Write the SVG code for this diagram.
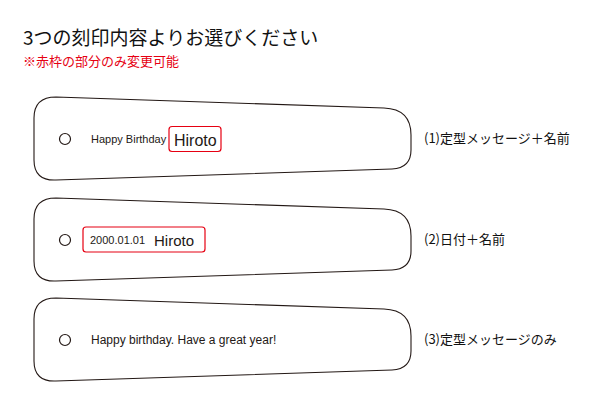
<svg xmlns="http://www.w3.org/2000/svg" width="600" height="400" viewBox="0 0 600 400">
<style>
.tag{fill:#fff;stroke:#231815;stroke-width:1.1}
.hole{fill:#fff;stroke:#231815;stroke-width:1.2}
.en{font-family:"Liberation Sans",Arial,sans-serif;fill:#231815}
.jp{font-family:"Noto Sans CJK JP","Noto Sans",sans-serif;fill:#111}
.box{fill:none;stroke:#e60012;stroke-width:1.2}
</style>
<defs>
<path id="tagshape" d="M56,97 L384,108 Q411,109 411,135 L411,150 Q411,168 392,169 L56,180 Q34,181 34,160 L34,118 Q34,97 56,97 Z"/>
</defs>
<text x="23" y="45" class="jp" font-size="19">3つの刻印内容よりお選びください</text>
<text x="23" y="66" class="jp" font-size="13" style="fill:#e60012">※赤枠の部分のみ変更可能</text>

<g id="tag1">
<use href="#tagshape" class="tag"/>
<circle cx="65" cy="139" r="5.5" class="hole"/>
<text x="91" y="143" class="en" font-size="11">Happy Birthday</text>
<rect x="169" y="126.5" width="52" height="25" rx="3" class="box"/>
<text x="174" y="146" class="en" font-size="16">Hiroto</text>
<text x="424" y="143" class="jp" font-size="13">(1)定型メッセージ＋名前</text>
</g>

<g id="tag2">
<use href="#tagshape" class="tag" transform="translate(0,101)"/>
<circle cx="65" cy="240" r="5.5" class="hole"/>
<rect x="83" y="227" width="122" height="25" rx="3" class="box"/>
<text x="90" y="244" class="en" font-size="11">2000.01.01</text>
<text x="154" y="246" class="en" font-size="15">Hiroto</text>
<text x="424" y="244" class="jp" font-size="13">(2)日付＋名前</text>
</g>

<g id="tag3">
<use href="#tagshape" class="tag" transform="translate(0,201)"/>
<circle cx="65" cy="340" r="5.5" class="hole"/>
<text x="91" y="344" class="en" font-size="12">Happy birthday. Have a great year!</text>
<text x="424" y="344" class="jp" font-size="13">(3)定型メッセージのみ</text>
</g>
</svg>
